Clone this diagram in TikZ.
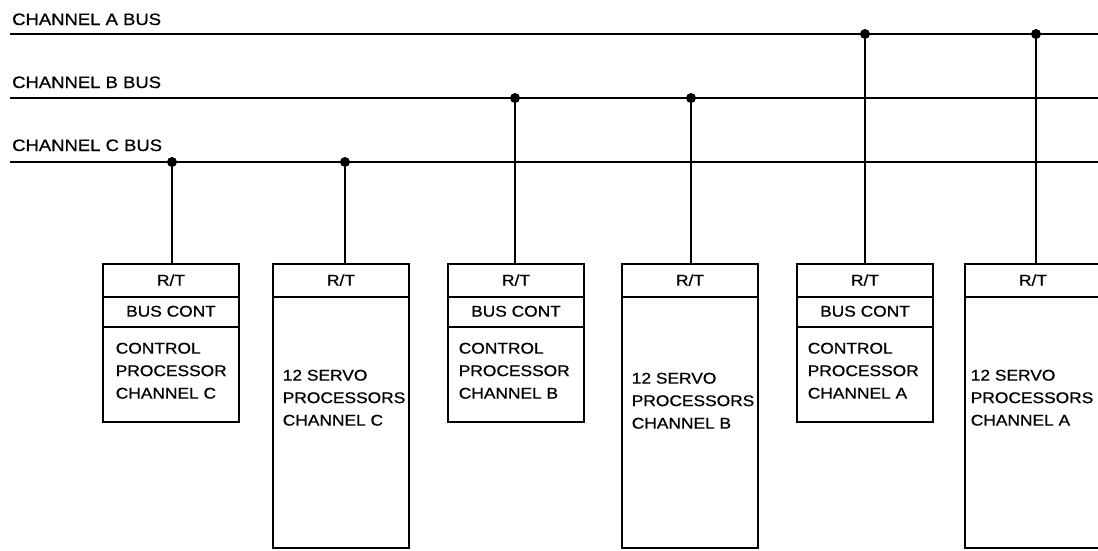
\documentclass[tikz,border=0pt]{standalone}
\usepackage{fontspec}
\setmainfont{Liberation Sans}[FakeStretch=1.12,FakeBold=0.8]
\begin{document}
\begin{tikzpicture}[x=1pt,y=-1pt,
  bus/.style={line width=2.4pt},
  tap/.style={line width=1.6pt},
  dot/.style={circle,fill=black,inner sep=0pt,minimum size=10pt},
  ctrlbox/.style={draw,line width=2.8pt,minimum width=136pt,minimum height=158pt,inner sep=0pt},
  servobox/.style={draw,line width=2.8pt,minimum width=136pt,minimum height=284pt,inner sep=0pt},
  divider/.style={line width=2.2pt},
  lbl/.style={anchor=base west,inner sep=0pt,font=\fontsize{16.5}{22}\selectfont},
  boxtxt/.style={anchor=base west,inner sep=0pt,align=left,font=\fontsize{15.5}{22.5}\selectfont},
  hdr/.style={anchor=base,inner sep=0pt,font=\fontsize{15.5}{22}\selectfont}]
\useasboundingbox (0,0) rectangle (1098,550);

% bus labels
\node[lbl] (la) at (12,25) {CHANNEL A BUS};
\node[lbl] (lb) at (12,88) {CHANNEL B BUS};
\node[lbl] (lc) at (12,151) {CHANNEL C BUS};

% bus lines
\coordinate (aL) at (10,34); \coordinate (aR) at (1098,34);
\coordinate (bL) at (10,98); \coordinate (bR) at (1098,98);
\coordinate (cL) at (10,162); \coordinate (cR) at (1098,162);
\draw[bus] (aL) -- (aR);
\draw[bus] (bL) -- (bR);
\draw[bus] (cL) -- (cR);

% boxes
\node[ctrlbox]  (b1) at (171,343) {};
\node[servobox] (b2) at (341,406) {};
\node[ctrlbox]  (b3) at (516,343) {};
\node[servobox] (b4) at (690,406) {};
\node[ctrlbox]  (b5) at (865,343) {};
\node[servobox] (b6) at (1033,406) {};

% dividers
\foreach \b in {b1,b3,b5}{
  \draw[divider] ([yshift=-34pt]\b.north west) -- ([yshift=-34pt]\b.north east);
  \draw[divider] ([yshift=-64pt]\b.north west) -- ([yshift=-64pt]\b.north east);
}
\foreach \b in {b2,b4,b6}{
  \draw[divider] ([yshift=-34pt]\b.north west) -- ([yshift=-34pt]\b.north east);
}

% headers
\foreach \b in {b1,b2,b3,b4,b5,b6}{
  \node[hdr] at ([yshift=-23pt]\b.north) {R/T};
}
\foreach \b in {b1,b3,b5}{
  \node[hdr] at ([yshift=-54pt]\b.north) {BUS CONT};
}

% box texts (anchor = baseline of last line)
\node[boxtxt] (t1) at ([xshift=14pt,yshift=-136pt]b1.north west) {CONTROL\\PROCESSOR\\CHANNEL C};
\node[boxtxt] (t3) at ([xshift=12pt,yshift=-136pt]b3.north west) {CONTROL\\PROCESSOR\\CHANNEL B};
\node[boxtxt] (t5) at ([xshift=12pt,yshift=-136pt]b5.north west) {CONTROL\\PROCESSOR\\CHANNEL A};
\node[boxtxt] (t2) at ([xshift=11pt,yshift=-163pt]b2.north west) {12 SERVO\\PROCESSORS\\CHANNEL C};
\node[boxtxt] (t4) at ([xshift=11pt,yshift=-166pt]b4.north west) {12 SERVO\\PROCESSORS\\CHANNEL B};
\node[boxtxt] (t6) at ([xshift=7pt,yshift=-163pt]b6.north west) {12 SERVO\\PROCESSORS\\CHANNEL A};

% taps
\node[dot] (d1) at (172,162) {};
\node[dot] (d2) at (345,162) {};
\node[dot] (d3) at (515,98) {};
\node[dot] (d4) at (691,98) {};
\node[dot] (d5) at (865,34) {};
\node[dot] (d6) at (1036,34) {};
\draw[tap] (d1.center) -- (d1.center |- b1.north);
\draw[tap] (d2.center) -- (d2.center |- b2.north);
\draw[tap] (d3.center) -- (d3.center |- b3.north);
\draw[tap] (d4.center) -- (d4.center |- b4.north);
\draw[tap] (d5.center) -- (d5.center |- b5.north);
\draw[tap] (d6.center) -- (d6.center |- b6.north);
\end{tikzpicture}
\end{document}
